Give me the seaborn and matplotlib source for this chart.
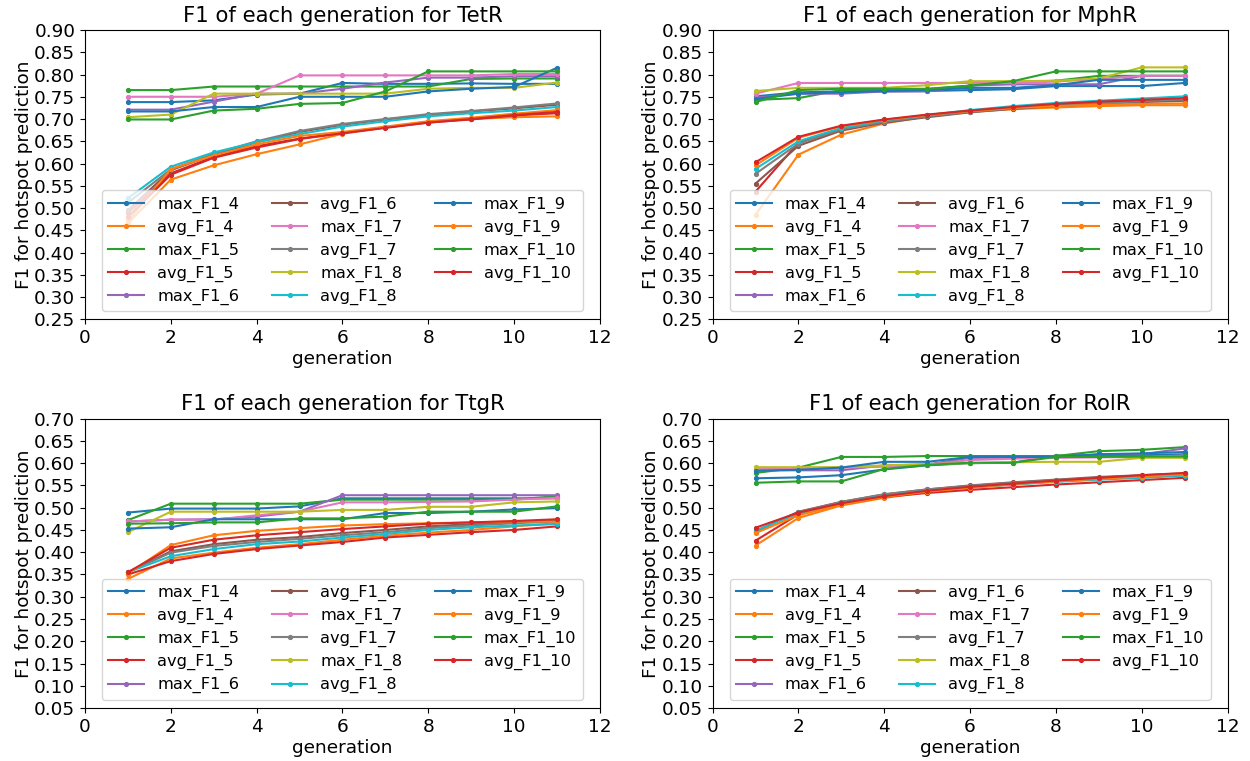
import matplotlib
matplotlib.use("Agg")
import matplotlib.pyplot as plt
import seaborn as sns
import numpy as np

generation = list(range(1, 12))
k_values = [4, 5, 6, 7, 8, 9, 10]
proteins = ["TetR", "MphR", "TtgR", "RolR"]

# ---- TetR ----
tetr_max = {
    4:  [0.738, 0.738, 0.742, 0.755, 0.757, 0.781, 0.779, 0.779, 0.780, 0.779, 0.779],
    5:  [0.765, 0.765, 0.773, 0.773, 0.773, 0.773, 0.773, 0.773, 0.790, 0.791, 0.791],
    6:  [0.721, 0.721, 0.739, 0.757, 0.757, 0.768, 0.782, 0.793, 0.793, 0.796, 0.796],
    7:  [0.750, 0.750, 0.750, 0.757, 0.798, 0.798, 0.798, 0.798, 0.798, 0.801, 0.801],
    8:  [0.704, 0.710, 0.757, 0.757, 0.757, 0.757, 0.757, 0.768, 0.770, 0.770, 0.782],
    9:  [0.717, 0.717, 0.727, 0.727, 0.750, 0.750, 0.750, 0.762, 0.768, 0.772, 0.815],
    10: [0.699, 0.699, 0.719, 0.723, 0.734, 0.736, 0.762, 0.807, 0.807, 0.807, 0.807],
}
tetr_avg = {
    4:  [0.466, 0.564, 0.596, 0.621, 0.643, 0.667, 0.681, 0.694, 0.700, 0.704, 0.706],
    5:  [0.489, 0.578, 0.615, 0.639, 0.656, 0.669, 0.681, 0.692, 0.699, 0.708, 0.713],
    6:  [0.495, 0.585, 0.620, 0.648, 0.671, 0.687, 0.699, 0.709, 0.717, 0.724, 0.732],
    7:  [0.512, 0.587, 0.622, 0.650, 0.673, 0.689, 0.700, 0.711, 0.718, 0.726, 0.735],
    8:  [0.522, 0.593, 0.625, 0.648, 0.666, 0.683, 0.695, 0.706, 0.713, 0.719, 0.727],
    9:  [0.470, 0.588, 0.618, 0.643, 0.662, 0.671, 0.683, 0.695, 0.703, 0.712, 0.720],
    10: [0.480, 0.575, 0.613, 0.636, 0.655, 0.668, 0.680, 0.692, 0.700, 0.709, 0.716],
}

# ---- MphR ----
mphr_max = {
    4:  [0.751, 0.760, 0.762, 0.762, 0.763, 0.765, 0.767, 0.774, 0.774, 0.774, 0.781],
    5:  [0.743, 0.747, 0.765, 0.766, 0.767, 0.775, 0.783, 0.786, 0.797, 0.797, 0.797],
    6:  [0.748, 0.757, 0.757, 0.762, 0.762, 0.775, 0.778, 0.778, 0.778, 0.797, 0.797],
    7:  [0.757, 0.781, 0.781, 0.781, 0.781, 0.781, 0.781, 0.784, 0.790, 0.797, 0.797],
    8:  [0.763, 0.770, 0.770, 0.770, 0.776, 0.785, 0.785, 0.786, 0.791, 0.816, 0.816],
    9:  [0.745, 0.757, 0.760, 0.763, 0.765, 0.770, 0.770, 0.776, 0.788, 0.788, 0.788],
    10: [0.738, 0.765, 0.768, 0.768, 0.768, 0.775, 0.785, 0.807, 0.807, 0.807, 0.807],
}
mphr_avg = {
    4:  [0.485, 0.620, 0.665, 0.690, 0.706, 0.716, 0.722, 0.726, 0.729, 0.731, 0.731],
    5:  [0.537, 0.647, 0.677, 0.693, 0.706, 0.717, 0.725, 0.731, 0.737, 0.741, 0.744],
    6:  [0.555, 0.640, 0.674, 0.692, 0.704, 0.715, 0.723, 0.729, 0.734, 0.738, 0.741],
    7:  [0.577, 0.645, 0.677, 0.694, 0.706, 0.716, 0.724, 0.731, 0.736, 0.740, 0.744],
    8:  [0.588, 0.650, 0.680, 0.697, 0.709, 0.720, 0.729, 0.736, 0.741, 0.746, 0.751],
    9:  [0.596, 0.658, 0.684, 0.698, 0.709, 0.718, 0.725, 0.729, 0.732, 0.734, 0.735],
    10: [0.603, 0.660, 0.685, 0.699, 0.710, 0.719, 0.727, 0.734, 0.739, 0.743, 0.747],
}

# ---- TtgR ----
ttgr_max = {
    4:  [0.489, 0.498, 0.498, 0.498, 0.503, 0.521, 0.521, 0.521, 0.521, 0.521, 0.521],
    5:  [0.472, 0.509, 0.509, 0.509, 0.509, 0.518, 0.518, 0.518, 0.518, 0.518, 0.526],
    6:  [0.469, 0.473, 0.474, 0.480, 0.491, 0.528, 0.528, 0.528, 0.528, 0.528, 0.528],
    7:  [0.469, 0.473, 0.473, 0.483, 0.491, 0.512, 0.512, 0.513, 0.514, 0.518, 0.522],
    8:  [0.445, 0.491, 0.491, 0.491, 0.491, 0.495, 0.495, 0.502, 0.502, 0.512, 0.514],
    9:  [0.453, 0.456, 0.474, 0.474, 0.474, 0.474, 0.488, 0.488, 0.491, 0.496, 0.499],
    10: [0.464, 0.465, 0.467, 0.467, 0.476, 0.476, 0.480, 0.491, 0.491, 0.491, 0.503],
}
ttgr_avg = {
    4:  [0.340, 0.386, 0.399, 0.410, 0.418, 0.428, 0.437, 0.444, 0.450, 0.458, 0.465],
    5:  [0.350, 0.380, 0.396, 0.407, 0.415, 0.423, 0.433, 0.439, 0.445, 0.450, 0.458],
    6:  [0.355, 0.402, 0.418, 0.428, 0.434, 0.443, 0.450, 0.458, 0.463, 0.467, 0.472],
    7:  [0.355, 0.399, 0.414, 0.423, 0.430, 0.438, 0.445, 0.454, 0.460, 0.465, 0.469],
    8:  [0.355, 0.391, 0.407, 0.418, 0.424, 0.433, 0.441, 0.450, 0.456, 0.460, 0.463],
    9:  [0.352, 0.416, 0.438, 0.448, 0.454, 0.460, 0.463, 0.465, 0.467, 0.469, 0.469],
    10: [0.355, 0.410, 0.428, 0.438, 0.445, 0.452, 0.458, 0.464, 0.467, 0.470, 0.474],
}

# ---- RolR ----
rolr_max = {
    4:  [0.566, 0.568, 0.573, 0.586, 0.595, 0.600, 0.601, 0.617, 0.618, 0.618, 0.620],
    5:  [0.578, 0.590, 0.614, 0.614, 0.616, 0.616, 0.616, 0.616, 0.627, 0.630, 0.636],
    6:  [0.584, 0.584, 0.584, 0.595, 0.597, 0.612, 0.612, 0.613, 0.620, 0.620, 0.633],
    7:  [0.587, 0.589, 0.590, 0.592, 0.596, 0.607, 0.610, 0.612, 0.613, 0.614, 0.617],
    8:  [0.591, 0.591, 0.591, 0.595, 0.598, 0.600, 0.602, 0.603, 0.603, 0.612, 0.612],
    9:  [0.583, 0.585, 0.590, 0.603, 0.603, 0.614, 0.614, 0.614, 0.620, 0.622, 0.625],
    10: [0.556, 0.559, 0.559, 0.587, 0.596, 0.601, 0.601, 0.614, 0.614, 0.615, 0.615],
}
rolr_avg = {
    4:  [0.415, 0.477, 0.505, 0.522, 0.535, 0.545, 0.552, 0.560, 0.566, 0.570, 0.573],
    5:  [0.426, 0.485, 0.508, 0.524, 0.533, 0.540, 0.546, 0.552, 0.557, 0.562, 0.567],
    6:  [0.446, 0.491, 0.513, 0.530, 0.541, 0.550, 0.557, 0.563, 0.569, 0.573, 0.577],
    7:  [0.447, 0.490, 0.513, 0.530, 0.541, 0.549, 0.556, 0.562, 0.567, 0.572, 0.576],
    8:  [0.449, 0.487, 0.510, 0.527, 0.538, 0.546, 0.552, 0.558, 0.563, 0.567, 0.572],
    9:  [0.443, 0.483, 0.507, 0.524, 0.536, 0.545, 0.553, 0.559, 0.565, 0.570, 0.575],
    10: [0.455, 0.489, 0.510, 0.526, 0.538, 0.547, 0.554, 0.561, 0.567, 0.573, 0.578],
}

panel_data = [(tetr_max, tetr_avg), (mphr_max, mphr_avg),
              (ttgr_max, ttgr_avg), (rolr_max, rolr_avg)]
y_ranges = [(0.25, 0.90), (0.25, 0.90), (0.05, 0.70), (0.05, 0.70)]

palette = sns.color_palette("tab10", 10)

fig, axes = plt.subplots(2, 2, figsize=(12.5, 7.61), dpi=100)
fig.subplots_adjust(left=0.068, right=0.982, top=0.9606, bottom=0.0696,
                    wspace=0.219, hspace=0.343)

for ax, name, (mx, av), (ylo, yhi) in zip(axes.flat, proteins, panel_data, y_ranges):
    ci = 0
    for k in k_values:
        for label, series in ((f"max_F1_{k}", mx[k]), (f"avg_F1_{k}", av[k])):
            c = palette[ci % 10]
            sns.lineplot(x=generation, y=series, ax=ax, color=c, marker=".",
                         markersize=5.5, markeredgecolor=c, markeredgewidth=1.0,
                         linewidth=1.5, label=label)
            ci += 1
    ax.set_xlim(0, 12)
    ax.set_ylim(ylo, yhi)
    ax.set_xticks(np.arange(0, 13, 2))
    ax.set_yticks(np.round(np.arange(ylo, yhi + 0.001, 0.05), 2))
    ax.tick_params(labelsize=13.3)
    ax.set_xlabel("generation", fontsize=13.3, labelpad=2)
    ax.set_ylabel("F1 for hotspot prediction", fontsize=13.3, labelpad=1)
    ax.set_title(f"F1 of each generation for {name}", fontsize=15.2)
    ax.legend(ncol=3, loc="lower center", fontsize=11.7, handlelength=2.2,
              labelspacing=0.42)

fig.savefig("out.png", dpi=100)
